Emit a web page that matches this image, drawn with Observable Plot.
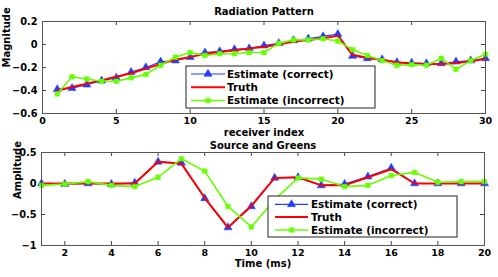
<!DOCTYPE html>
<html>
<head>
<meta charset="utf-8">
<script src="https://cdn.jsdelivr.net/npm/d3@7"></script>
<script src="https://cdn.jsdelivr.net/npm/@observablehq/plot@0.6"></script>
<style>
  html, body { margin: 0; padding: 0; background: #fff; }
  #chart svg { display: block; }
</style>
</head>
<body>
<div id="chart"></div>
<script>
// ---- Data: Radiation Pattern ----
const receiver = [1,2,3,4,5,6,7,8,9,10,11,12,13,14,15,16,17,18,19,20,21,22,23,24,25,26,27,28,29,30];
const radCorrect = [-0.39,-0.38,-0.35,-0.315,-0.29,-0.24,-0.20,-0.15,-0.14,-0.11,-0.07,-0.06,-0.043,-0.035,-0.01,0.01,0.035,0.05,0.07,0.09,-0.10,-0.12,-0.13,-0.155,-0.16,-0.165,-0.165,-0.15,-0.14,-0.12];
const radTruth = [-0.40,-0.37,-0.34,-0.31,-0.28,-0.25,-0.21,-0.17,-0.13,-0.11,-0.08,-0.065,-0.05,-0.035,-0.02,0.0,0.025,0.04,0.055,0.075,-0.09,-0.115,-0.135,-0.155,-0.165,-0.17,-0.17,-0.16,-0.145,-0.125];
const radIncorrect = [-0.43,-0.28,-0.30,-0.32,-0.32,-0.29,-0.26,-0.18,-0.11,-0.07,-0.095,-0.08,-0.08,-0.07,-0.07,0.01,0.04,0.04,0.05,0.03,-0.045,-0.095,-0.14,-0.18,-0.175,-0.18,-0.12,-0.215,-0.14,-0.085];
const radXTicks = [0,5,10,15,20,25,30];
const radYTicks = [0.2,0,-0.2,-0.4,-0.6];

// ---- Data: Source and Greens ----
const time = [1,2,3,4,5,6,7,8,9,10,11,12,13,14,15,16,17,18,19,20];
const srcCorrect = [0,-0.01,0,-0.01,0.01,0.35,0.33,-0.24,-0.71,-0.37,0.09,0.10,-0.03,-0.01,0.11,0.25,0,0,0,0];
const srcTruth = [0,0,0,0,0,0.35,0.32,-0.23,-0.71,-0.36,0.09,0.10,-0.03,-0.03,0.10,0.23,0,0,0,0];
const srcIncorrect = [-0.03,-0.01,0.03,-0.03,-0.05,0.10,0.40,0.20,-0.37,-0.70,-0.26,0.09,0.07,-0.05,-0.03,0.13,0.18,0.02,0.03,0.03];
const srcXTicks = [2,4,6,8,10,12,14,16,18,20];
const srcYTicks = [0.5,0,-0.5,-1];

const legendLabels = ["Estimate (correct)", "Truth", "Estimate (incorrect)"];

const BLUE = "#1f3cff", RED = "#ff0000", GREEN = "#66ff00";
const FONT = "DejaVu Sans, Liberation Sans, sans-serif";
const fmt = d => d === 0 ? "0" : String(d).replace("-", "\u2212");

function panel({xs, s1, s2, s3, xDomain, yDomain, xTicks, yTicks, width, height, mt, mb, ml, mr, title, titleDy, xlabel, xlabelDy, ylabel, ylabelDx}) {
  const ph = height - mt - mb, pw = width - ml - mr, tl = 4;
  const A = xs.map((x, i) => ({x, y: s1[i]}));
  const B = xs.map((x, i) => ({x, y: s2[i]}));
  const C = xs.map((x, i) => ({x, y: s3[i]}));
  return Plot.plot({
    width, height, marginTop: mt, marginBottom: mb, marginLeft: ml, marginRight: mr,
    style: {fontFamily: FONT, fontSize: "10px", fontWeight: "bold", background: "#fff", overflow: "visible"},
    x: {domain: xDomain},
    y: {domain: yDomain},
    marks: [
      Plot.axisX(xTicks, {tickSize: 0, tickPadding: 4, tickFormat: fmt, label: null, fill: "#000", fontSize: 9.5}),
      Plot.axisY(yTicks, {tickSize: 0, tickPadding: 5, tickFormat: fmt, label: null, fill: "#000", fontSize: 9.8}),
      Plot.ruleX(xTicks, {x: d => d, insetTop: ph - tl, stroke: "#444"}),
      Plot.ruleX(xTicks, {x: d => d, insetBottom: ph - tl, stroke: "#444"}),
      Plot.ruleY(yTicks, {y: d => d, insetRight: pw - tl, stroke: "#444"}),
      Plot.ruleY(yTicks, {y: d => d, insetLeft: pw - tl, stroke: "#444"}),
      Plot.line(A, {x: "x", y: "y", stroke: BLUE, strokeWidth: 1.2}),
      Plot.dot(A, {x: "x", y: "y", symbol: "triangle", r: 3, fill: BLUE, stroke: BLUE, strokeWidth: 0.5}),
      Plot.line(B, {x: "x", y: "y", stroke: RED, strokeWidth: 2}),
      Plot.line(C, {x: "x", y: "y", stroke: GREEN, strokeWidth: 1.6}),
      Plot.dot(C, {x: "x", y: "y", symbol: "square", r: 2.6, fill: GREEN, stroke: GREEN, strokeWidth: 0.5}),
      Plot.frame({stroke: "#555"}),
      Plot.text([title], {frameAnchor: "top", lineAnchor: "middle", dy: titleDy, text: d => d, fontSize: 10, fontWeight: "bold", fill: "#000"}),
      Plot.text([xlabel], {frameAnchor: "bottom", lineAnchor: "middle", dy: xlabelDy, text: d => d, fontSize: 10, fontWeight: "bold", fill: "#000"}),
      Plot.text([ylabel], {frameAnchor: "left", lineAnchor: "middle", dx: ylabelDx, rotate: -90, text: d => d, fontSize: 10, fontWeight: "bold", fill: "#000"})
    ]
  });
}

function addLegend(svg, {x0, y0, w, h, rows, lineX0, lineX1, textX}) {
  const g = d3.select(svg).append("g").attr("font-family", FONT).attr("font-size", 10.4)
    .attr("font-weight", "bold").attr("text-anchor", "start");
  g.append("rect").attr("x", x0).attr("y", y0).attr("width", w).attr("height", h)
    .attr("fill", "#fff").attr("stroke", "#222").attr("stroke-width", 1);
  const specs = [
    {color: BLUE, sw: 1.2, sym: d3.symbolTriangle, r: 3},
    {color: RED, sw: 2, sym: null},
    {color: GREEN, sw: 1.6, sym: d3.symbolSquare, r: 2.6}
  ];
  specs.forEach((s, i) => {
    const y = rows[i];
    g.append("line").attr("x1", lineX0).attr("x2", lineX1).attr("y1", y).attr("y2", y)
      .attr("stroke", s.color).attr("stroke-width", s.sw);
    if (s.sym) {
      g.append("path").attr("d", d3.symbol(s.sym, Math.PI * s.r * s.r)())
        .attr("transform", `translate(${(lineX0 + lineX1) / 2},${y})`)
        .attr("fill", s.color).attr("stroke", s.color).attr("stroke-width", 0.5);
    }
    g.append("text").attr("x", textX).attr("y", y).attr("dy", "0.35em").attr("fill", "#000")
      .attr("text-anchor", "start").text(legendLabels[i]);
  });
}

const topPanel = panel({
  xs: receiver, s1: radCorrect, s2: radTruth, s3: radIncorrect,
  xDomain: [0, 30], yDomain: [-0.6, 0.2], xTicks: radXTicks, yTicks: radYTicks,
  width: 498, height: 138, mt: 21, mb: 25, ml: 42, mr: 13,
  title: "Radiation Pattern", titleDy: -10,
  xlabel: "receiver index", xlabelDy: 19, ylabel: "Magnitude", ylabelDx: -36
});
addLegend(topPanel, {x0: 186, y0: 66, w: 189, h: 42, rows: [74, 87.3, 100.5], lineX0: 191, lineX1: 225, textX: 227});

const bottomPanel = panel({
  xs: time, s1: srcCorrect, s2: srcTruth, s3: srcIncorrect,
  xDomain: [1, 20], yDomain: [-1, 0.5], xTicks: srcXTicks, yTicks: srcYTicks,
  width: 498, height: 139, mt: 14, mb: 32, ml: 41, mr: 14,
  title: "Source and Greens", titleDy: -7,
  xlabel: "Time (ms)", xlabelDy: 18, ylabel: "Amplitude", ylabelDx: -24
});
addLegend(bottomPanel, {x0: 268, y0: 58, w: 189, h: 41, rows: [66.3, 79, 92], lineX0: 275, lineX1: 308, textX: 311});

document.getElementById("chart").append(topPanel, bottomPanel);
</script>
</body>
</html>
